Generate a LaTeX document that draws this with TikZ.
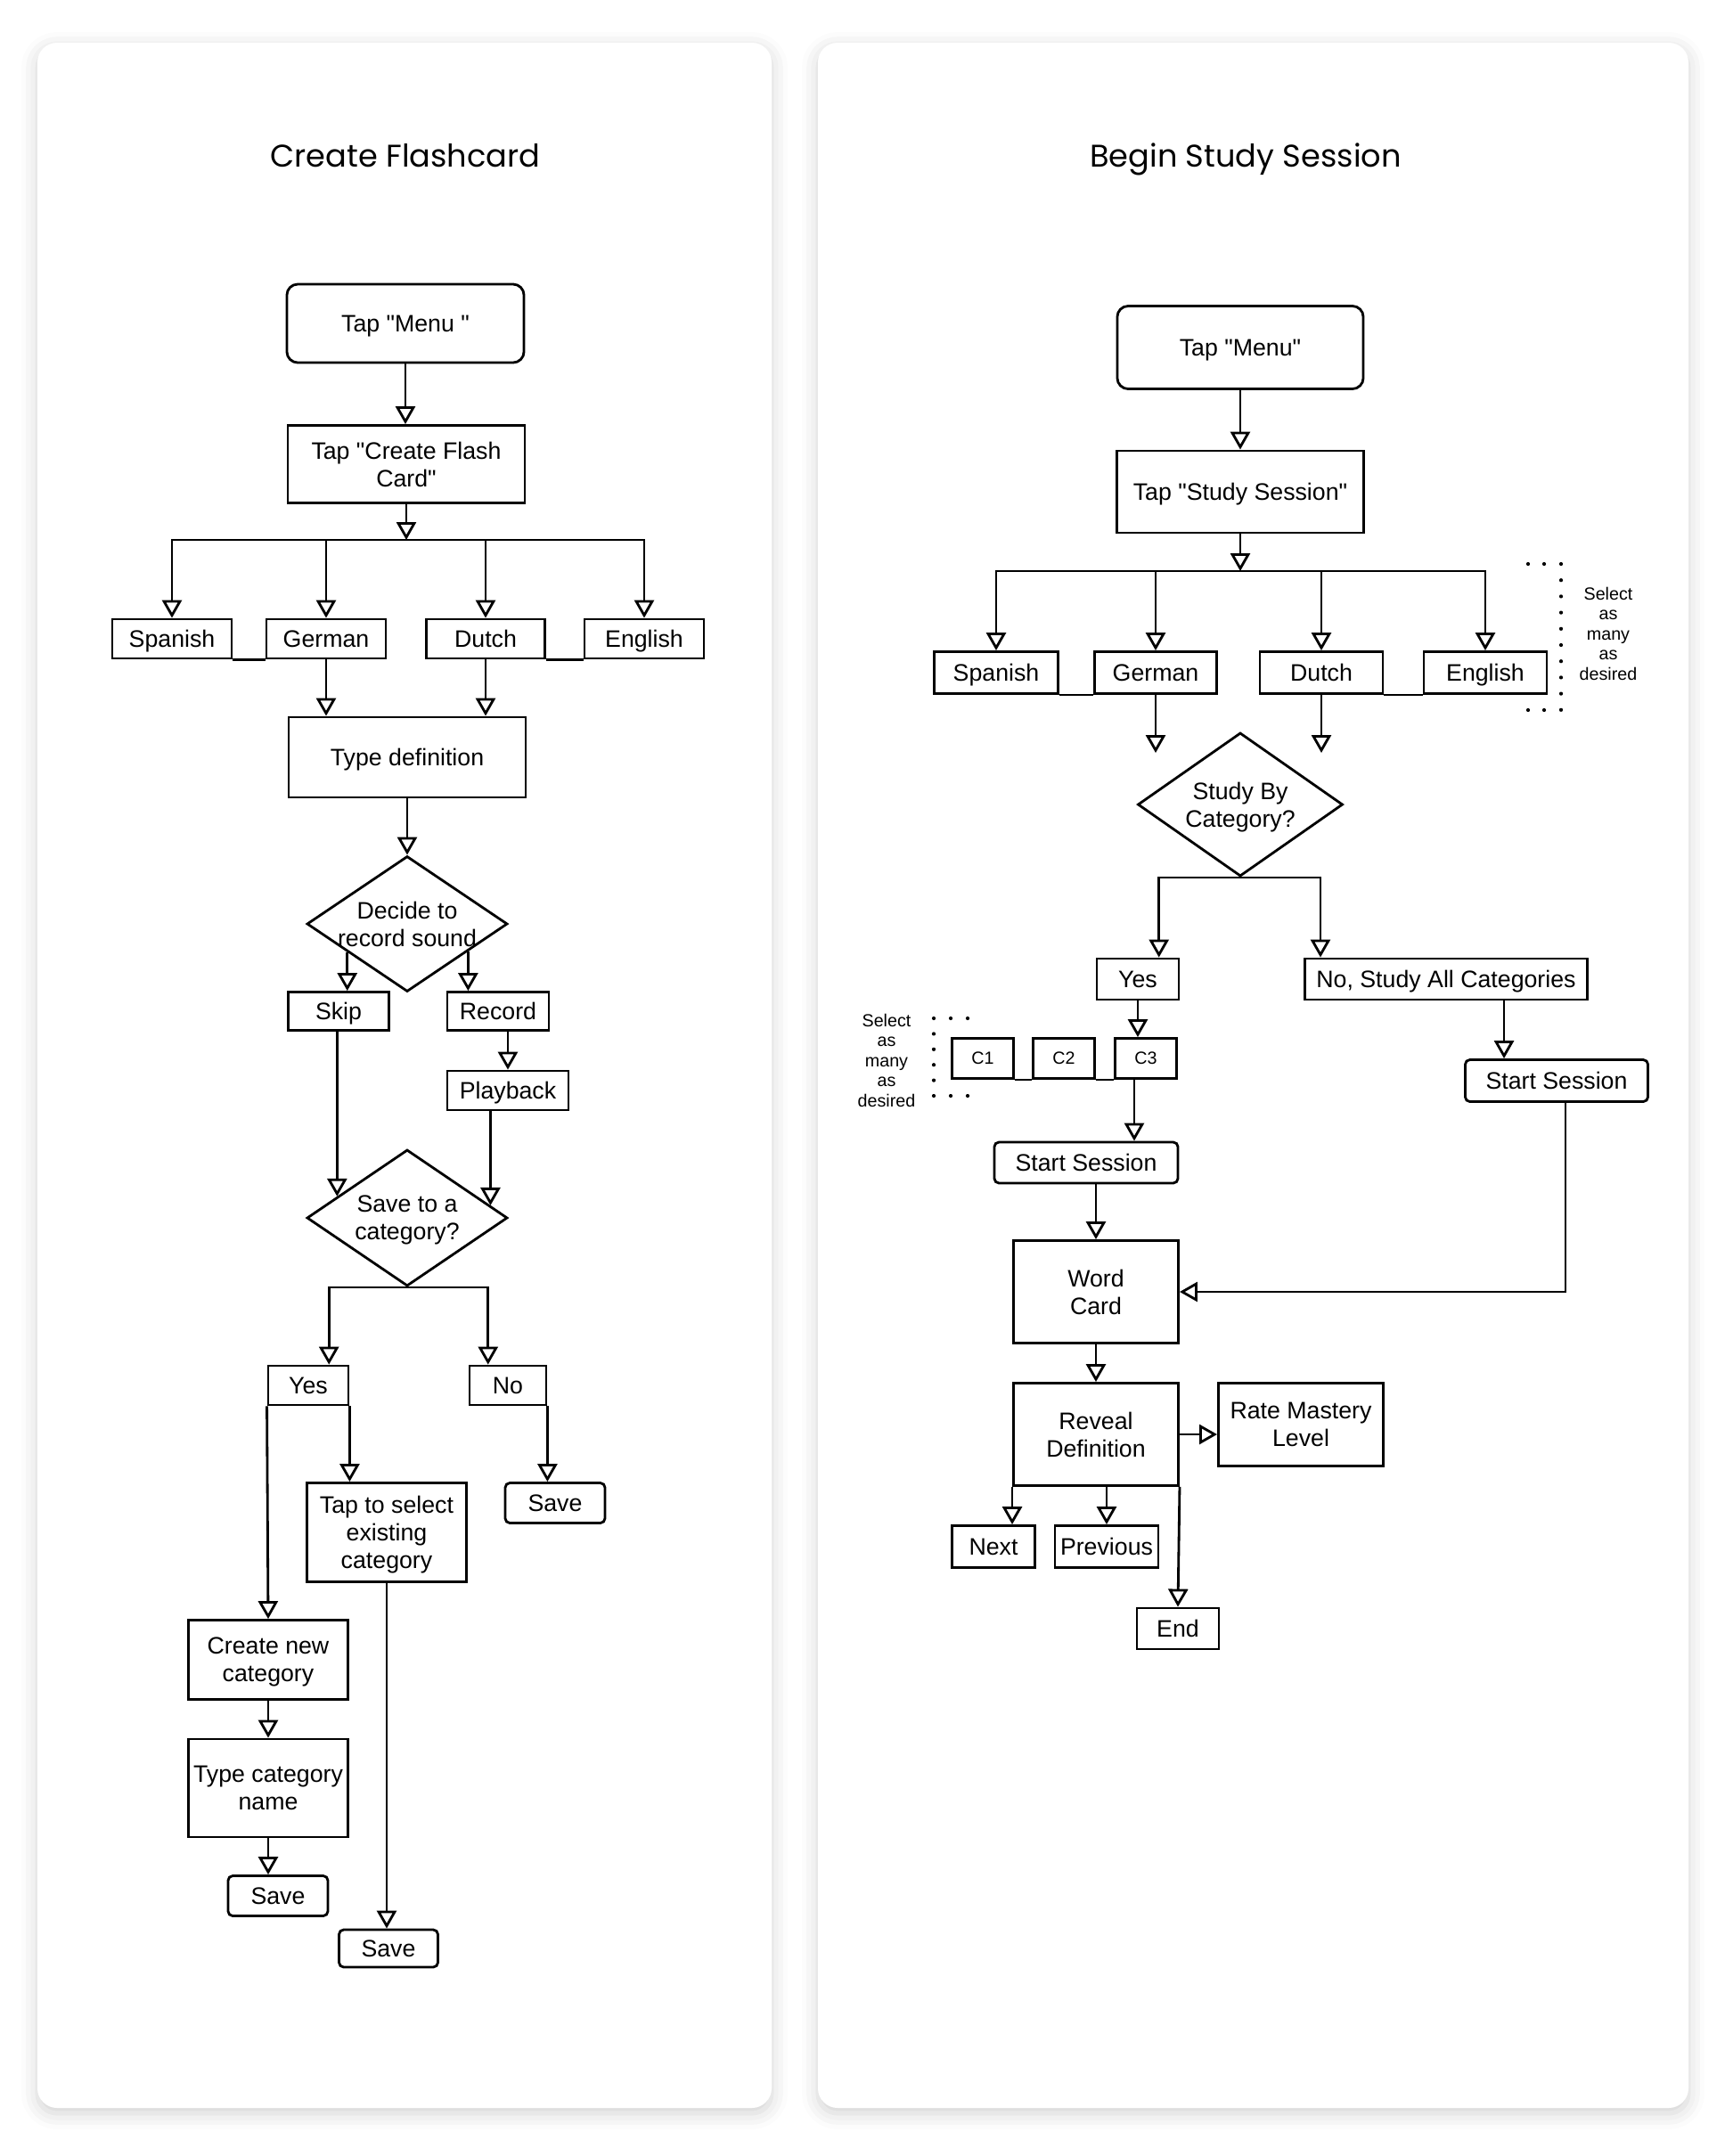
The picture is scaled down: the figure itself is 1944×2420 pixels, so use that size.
\documentclass[tikz,border=0pt]{standalone}
\usepackage{fontspec}
\setmainfont{Liberation Sans}[Ligatures=TeXOff]
\newfontfamily\titlefont{Poppins}
\usetikzlibrary{arrows.meta,shapes.geometric,calc,shadows.blur}

% text lines that do not widen a diamond
\newcommand{\dtext}[1]{\makebox[0pt]{#1}}

\tikzset{
  panel/.style={fill=white, rounded corners=0.22cm,
    blur shadow={shadow xshift=0pt, shadow yshift=-0.06cm, shadow blur radius=0.18cm, shadow opacity=18}},
  heading/.style={font=\titlefont\fontsize{10}{12}\selectfont, anchor=base},
  box/.style={draw, line width=0.8pt, fill=white, inner sep=1pt, align=center, text depth=0pt,
    font=\fontsize{7.6}{8.8}\selectfont},
  rbox/.style={box, rounded corners=1.5pt},
  menubox/.style={box, rounded corners=3.5pt},
  cbox/.style={box, font=\fontsize{5.6}{6.6}\selectfont},
  ask/.style={diamond, draw, line width=0.8pt, fill=white, inner sep=0pt, align=center, text depth=0pt,
    font=\fontsize{7.6}{8.8}\selectfont},
  note/.style={align=center, font=\fontsize{5.6}{6.4}\selectfont},
  link/.style={line width=0.8pt},
  arr/.style={line width=0.8pt, -{Triangle[open, length=0.2cm, width=0.22cm]}}
}

\begin{document}
\begin{tikzpicture}[x=0.01cm, y=-0.01cm]
\useasboundingbox (0,0) rectangle (1944,2420);

% cards
\path[panel] (42,48) rectangle (866,2366);
\path[panel] (918,48) rectangle (1895,2366);

\node[heading] (titleL) at (455,187) {Create Flashcard};
\node[heading] (titleR) at (1398,187) {Begin Study Session};

%%% create flashcard
\node[menubox, minimum width=2.66cm, minimum height=0.88cm] (menuL) at (455,363) {Tap "Menu "};
\node[box, minimum width=2.66cm, minimum height=0.87cm] (createL) at (456,521) {Tap "Create Flash\\Card"};
\coordinate (busL) at (456,606);

\node[box, minimum width=1.34cm, minimum height=0.44cm] (spL) at (193,717) {Spanish};
\node[box, minimum width=1.34cm, minimum height=0.44cm] (deL) at (366,717) {German};
\node[box, minimum width=1.33cm, minimum height=0.44cm] (nlL) at (545,717) {Dutch};
\node[box, minimum width=1.34cm, minimum height=0.44cm] (enL) at (723,717) {English};

\node[box, minimum width=2.66cm, minimum height=0.90cm] (typedef) at (457,850) {Type definition};
\node[ask, minimum width=2.25cm, minimum height=1.52cm] (decide) at (457,1037) {\dtext{Decide to}\\\dtext{record sound}};

\node[box, minimum width=1.13cm, minimum height=0.43cm] (skip) at (380,1135) {Skip};
\node[box, minimum width=1.14cm, minimum height=0.43cm] (record) at (559,1135) {Record};
\node[box, minimum width=1.36cm, minimum height=0.44cm] (playback) at (570,1224) {Playback};

\node[ask, minimum width=2.25cm, minimum height=1.53cm] (save) at (457,1367) {\dtext{Save to a}\\\dtext{category?}};

\node[box, minimum width=0.90cm, minimum height=0.44cm] (yesL) at (346,1555) {Yes};
\node[box, minimum width=0.86cm, minimum height=0.44cm] (noL) at (570,1555) {No};
\node[box, minimum width=1.79cm, minimum height=1.11cm] (tapsel) at (434,1720) {Tap to select\\existing\\category};
\node[rbox, minimum width=1.12cm, minimum height=0.45cm] (saveNo) at (623,1687) {Save};
\node[box, minimum width=1.79cm, minimum height=0.89cm] (newcat) at (301,1863) {Create new\\category};
\node[box, minimum width=1.79cm, minimum height=1.10cm] (typecat) at (301,2007) {Type category\\name};
\node[rbox, minimum width=1.12cm, minimum height=0.45cm] (saveNew) at (312,2128) {Save};
\node[rbox, minimum width=1.11cm, minimum height=0.42cm] (saveSel) at (436,2187) {Save};

\draw[arr] (menuL.south) -- (menuL.south |- createL.north);
\draw[arr] (createL.south) -- (busL);
\foreach \lang in {spL,deL,nlL,enL}
  \draw[arr] (busL) -| (\lang.north);
\draw[link] (spL.south east) -- (deL.south west);
\draw[link] (nlL.south east) -- (enL.south west);
\draw[arr] (deL.south) -- (deL.south |- typedef.north);
\draw[arr] (nlL.south) -- (nlL.south |- typedef.north);
\draw[arr] (typedef.south) -- (decide.north);

\coordinate (skipOut) at ($(decide.south)!0.59!(decide.west)$);
\coordinate (recOut) at ($(decide.south)!0.6!(decide.east)$);
\draw[arr] (skipOut) -- (skipOut |- skip.north);
\draw[arr] (recOut) -- (recOut |- record.north);
\draw[arr] (playback.north |- record.south) -- (playback.north);

\coordinate (skipIn) at ($(save.north)!0.69!(save.west)$);
\coordinate (playIn) at ($(save.north)!0.82!(save.east)$);
\draw[arr] (skipIn |- skip.south) -- (skipIn);
\draw[arr] (playIn |- playback.south) -- (playIn);

\draw[arr] (save.south) -| ($(yesL.north)!0.5!(yesL.north east)$);
\draw[arr] (save.south) -| ($(noL.north)!0.5!(noL.north west)$);
\draw[arr] (yesL.south west) -- (newcat.north);
\draw[arr] (yesL.south east) -- (yesL.south east |- tapsel.north);
\draw[arr] (noL.south east) -- (noL.south east |- saveNo.north);
\draw[arr] (newcat.south) -- (typecat.north);
\draw[arr] (typecat.south) -- (typecat.south |- saveNew.north);
\draw[arr] (tapsel.south) -- (tapsel.south |- saveSel.north);

%%% study session
\node[menubox, minimum width=2.76cm, minimum height=0.93cm] (menuR) at (1392,390) {Tap "Menu"};
\node[box, minimum width=2.77cm, minimum height=0.92cm] (studyR) at (1392,552) {Tap "Study Session"};
\coordinate (busR) at (1392,641);

\node[box, minimum width=1.39cm, minimum height=0.47cm] (spR) at (1118,755) {Spanish};
\node[box, minimum width=1.37cm, minimum height=0.47cm] (deR) at (1297,755) {German};
\node[box, minimum width=1.38cm, minimum height=0.47cm] (nlR) at (1483,755) {Dutch};
\node[box, minimum width=1.38cm, minimum height=0.47cm] (enR) at (1667,755) {English};
\node[note] (selR) at (1805,711) {Select\\as\\many\\as\\desired};

\node[ask, minimum width=2.30cm, minimum height=1.61cm] (study) at (1392,903) {\dtext{Study By}\\\dtext{Category?}};
\coordinate (studyIn) at (1392,845);

\node[box, minimum width=0.92cm, minimum height=0.46cm] (yesR) at (1277,1099) {Yes};
\node[box, minimum width=3.17cm, minimum height=0.46cm] (noall) at (1623,1099) {No, Study All Categories};

\node[cbox, minimum width=0.69cm, minimum height=0.45cm] (c1) at (1103,1188) {C1};
\node[cbox, minimum width=0.69cm, minimum height=0.45cm] (c2) at (1194,1188) {C2};
\node[cbox, minimum width=0.69cm, minimum height=0.45cm] (c3) at (1286,1188) {C3};
\node[note] (selL) at (995,1190) {Select\\as\\many\\as\\desired};

\node[rbox, minimum width=2.06cm, minimum height=0.46cm] (startL) at (1219,1305) {Start Session};
\node[rbox, minimum width=2.05cm, minimum height=0.47cm] (startR) at (1747,1213) {Start Session};

\node[box, minimum width=1.85cm, minimum height=1.15cm] (word) at (1230,1450) {Word\\Card};
\node[box, minimum width=1.85cm, minimum height=1.15cm] (reveal) at (1230,1610) {Reveal\\Definition};
\node[box, minimum width=1.85cm, minimum height=0.93cm] (rate) at (1460,1599) {Rate Mastery\\Level};
\node[box, minimum width=0.93cm, minimum height=0.47cm] (next) at (1115,1736) {Next};
\node[box, minimum width=1.16cm, minimum height=0.47cm] (prev) at (1242,1736) {Previous};
\node[box, minimum width=0.92cm, minimum height=0.46cm] (endR) at (1322,1828) {End};

\draw[arr] (menuR.south) -- (menuR.south |- studyR.north);
\draw[arr] (studyR.south) -- (busR);
\foreach \lang in {spR,deR,nlR,enR}
  \draw[arr] (busR) -| (\lang.north);
\draw[link] (spR.south east) -- (deR.south west);
\draw[link] (nlR.south east) -- (enR.south west);
\draw[arr] (deR.south) -- (deR.south |- studyIn);
\draw[arr] (nlR.south) -- (nlR.south |- studyIn);

\draw[arr] (study.south) -| ($(yesR.north)!0.5!(yesR.north east)$);
\draw[arr] (study.south) -| ($(noall.north west)+(19,0)$);
\draw[arr] (yesR.south) -- (yesR.south |- c3.north);
\draw[link] (c1.south east) -- (c2.south west);
\draw[link] (c2.south east) -- (c3.south west);
\coordinate (c3out) at ($(c3.south)+(-13,0)$);
\draw[arr] (c3out) -- (c3out |- startL.north);

\coordinate (noDown) at ($(startR.north west)+(45,0)$);
\draw[arr] (noDown |- noall.south) -- (noDown);
\draw[arr] (word.north |- startL.south) -- (word.north);
\coordinate (backOut) at ($(startR.south)+(10,0)$);
\draw[arr] (backOut) |- (word.east);

\draw[arr] (word.south) -- (reveal.north);
\draw[arr] (reveal.east) -- (reveal.east -| rate.west);
\draw[arr] (reveal.south west) -- (reveal.south west |- next.north);
\draw[arr] (prev.north |- reveal.south) -- (prev.north);
\draw[arr] (reveal.south east) -- (endR.north);

% dotted brackets
\foreach \k in {0,...,9}
  \fill (1752,633+18.2*\k) circle[radius=0.6pt];
\foreach \x in {1715,1733}{
  \fill (\x,633) circle[radius=0.6pt];
  \fill (\x,797) circle[radius=0.6pt];
}
\foreach \k in {0,...,5}
  \fill (1048,1143+17.4*\k) circle[radius=0.6pt];
\foreach \x in {1067,1086}{
  \fill (\x,1143) circle[radius=0.6pt];
  \fill (\x,1230) circle[radius=0.6pt];
}

\end{tikzpicture}
\end{document}
